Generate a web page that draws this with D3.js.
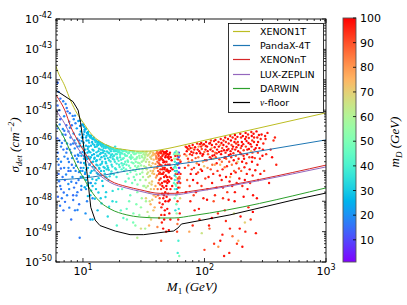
<!DOCTYPE html>
<html><head><meta charset="utf-8">
<script src="https://cdn.jsdelivr.net/npm/d3@7"></script>
<style>body{margin:0;background:#fff}</style>
</head><body>
<svg id="c" width="407" height="305" xmlns="http://www.w3.org/2000/svg"></svg>
<script>
// ---------------- data ----------------
const xTickValues = [10, 100, 1000];
const xTickExps = ["1", "2", "3"];
const yTickExps = [-42, -43, -44, -45, -46, -47, -48, -49, -50];
const cbTicks = [10, 20, 30, 40, 50, 60, 70, 80, 90, 100];
const legendLabels = ["XENON1T", "PandaX-4T", "XENONnT", "LUX-ZEPLIN", "DARWIN", "ν-floor"];
const lineColors = ["#bcbd22", "#1f77b4", "#d62728", "#9467bd", "#2ca02c", "#000000"];

// curves: [M1 (GeV), log10 sigma]
const xenon1T = [[6,-43.55],[6.11,-43.65],[7.08,-44.2],[7.94,-44.7],[8.91,-45.1],[10,-45.4],[12.1,-45.85],[14.1,-46.05],[16.7,-46.2],[23,-46.31],[27.9,-46.35],[35.5,-46.35],[43.1,-46.31],[56.2,-46.22],[80.5,-46.08],[1000,-45.09]];
const pandaX4T = [[6,-47.3],[12,-47.2],[23,-47.0],[43,-46.85],[92,-46.68],[200,-46.45],[1000,-45.98]];
const xenonNT = [[6,-44.5],[6.11,-44.55],[7.08,-45.0],[7.94,-45.55],[8.91,-45.95],[10,-46.3],[12.1,-46.8],[14.1,-47.1],[16.7,-47.32],[23,-47.52],[29.4,-47.62],[43.1,-47.74],[56.2,-47.74],[80.5,-47.66],[1000,-46.81]];
const luxZeplin = [[6,-45.0],[6.11,-45.05],[7.08,-45.45],[7.94,-45.85],[8.91,-46.2],[10,-46.5],[12.1,-46.92],[14.1,-47.18],[16.7,-47.38],[23,-47.57],[29.4,-47.67],[43.1,-47.79],[56.2,-47.79],[80.5,-47.7],[1000,-46.87]];
const darwin = [[6,-45.45],[6.11,-45.5],[7.08,-45.95],[7.94,-46.4],[8.91,-46.85],[10,-47.2],[12.1,-47.75],[14.1,-48.05],[16.7,-48.25],[23,-48.45],[29.4,-48.52],[43.1,-48.55],[56.2,-48.55],[80.5,-48.47],[1000,-47.56]];
const nuFloor = [[6,-44.35],[6.11,-44.37],[8.28,-44.72],[9.12,-45.0],[9.55,-45.4],[10,-46.0],[10.8,-47.07],[11.6,-48.2],[12.6,-48.62],[13.8,-48.8],[18.4,-48.98],[24.4,-49.1],[31.6,-49.1],[45.6,-49.02],[55.6,-48.98],[60.5,-48.88],[64.6,-48.75],[162,-48.45],[536,-47.96],[1000,-47.73]];

// scan points: [M1 (GeV), log10 sigma, mD (GeV)]
const pointsLight = [
[6.2,-44.1,15],[6.3,-44.4,17],[6.5,-45.3,14],[6.4,-46.0,18],[6.2,-46.4,16],[6.6,-46.7,19],[6.3,-47.1,15],[6.5,-47.5,17],[6.8,-45.8,20],[6.9,-46.3,16],[7.0,-46.9,18],[7.1,-47.3,14],[6.7,-47.9,17],[7.2,-44.8,19],[7.3,-45.5,16],[7.4,-46.1,21],[7.5,-46.6,18],[7.6,-47.0,15],[7.7,-47.6,19],[7.8,-45.1,17],[7.9,-45.9,20],[8.0,-46.4,18],[8.1,-46.8,16],[8.2,-47.2,20],[8.3,-47.8,15],[8.4,-45.3,19],[8.5,-46.0,21],[8.6,-46.5,17],[8.7,-47.0,19],[8.8,-47.4,16],[8.9,-45.6,22],[9.0,-46.2,20],[9.1,-46.7,18],[9.2,-47.3,17],[9.3,-48.1,16],[9.4,-45.8,21],[9.5,-46.4,19],[9.6,-46.9,18],[9.7,-47.5,20],[9.4,-49.2,17],
[10.0,-45.9,22],[10.2,-46.5,20],[10.4,-47.1,19],[10.6,-47.6,21],[10.8,-48.0,18],[11.0,-46.2,22],[11.3,-46.8,20],[11.6,-47.4,21],[12.0,-47.9,19],[6.4,-45.0,16],[6.6,-46.2,18],[6.8,-47.2,16],[7.0,-45.2,19],[7.3,-46.4,17],[7.6,-45.7,18],[7.9,-47.0,17],[8.1,-45.5,16],[8.4,-46.9,18],[8.7,-46.1,20],[9.0,-47.7,17],[9.3,-46.0,19],[9.6,-47.2,21],[6.9,-48.3,16],[7.4,-47.8,18],[8.6,-48.3,17],[10.5,-48.4,20],[6.2,-45.6,15],[6.3,-46.8,17],[7.8,-46.3,20],[8.9,-46.6,19],[9.9,-47.0,20],[7.1,-46.0,17],[8.3,-46.1,18],[9.2,-46.5,19],[6.6,-47.6,16],[7.6,-46.9,19],[11.5,-48.6,21],[8.0,-48.6,16],
[6.15,-45.93,14],[6.27,-46.61,18],[6.36,-47.34,16],[6.44,-45.47,19],[6.58,-46.92,15],[6.71,-46.08,17],[6.83,-45.62,20],[6.95,-47.71,16],[7.04,-46.53,18],[7.18,-45.81,15],[7.26,-47.12,19],[7.39,-46.27,17],[7.47,-45.04,16],[7.58,-47.43,20],[7.66,-46.71,18],[7.81,-45.58,19],[7.93,-46.13,16],[8.02,-47.36,18],[8.14,-46.58,20],[8.23,-45.19,17],[8.37,-45.77,21],[8.45,-47.55,16],[8.56,-46.26,19],[8.68,-45.43,18],[8.77,-46.83,20],[8.85,-47.81,17],[8.97,-45.94,21],[9.08,-46.47,19],[9.16,-45.36,22],[9.27,-47.04,18],[9.38,-46.19,20],[9.46,-45.52,21],[9.59,-46.73,19],[9.68,-47.62,17],[9.77,-46.02,22],[9.86,-45.47,23],[9.95,-46.38,21],[6.22,-47.85,15],[6.48,-48.15,17],[7.12,-48.02,16],[7.72,-48.21,18],[8.31,-47.96,17],[9.02,-48.29,19],[6.52,-44.62,16],[6.88,-44.71,18],[7.35,-44.93,17],[6.18,-44.85,15],[7.02,-45.68,17],[7.71,-45.38,19],[8.6,-45.18,20],
[9.5,-45.35,24],[9.6,-45.7,26],[9.4,-46.1,25],[9.7,-46.5,27],[9.5,-47.0,24],[10.0,-45.5,26],[10.1,-45.8,25],[9.9,-46.2,28],[10.2,-46.6,26],[10.0,-47.2,27],[10.3,-45.65,24],[10.5,-45.6,27],[10.6,-45.9,25],[10.4,-46.3,28],[10.7,-46.0,26],[10.5,-46.8,29],[10.6,-47.3,26],[10.8,-45.75,27],[11.0,-45.72,28],[11.1,-46.0,26],[10.9,-46.4,27],[11.2,-46.2,29],[11.0,-46.9,27],[11.3,-45.85,28],[11.1,-47.4,25],[11.4,-46.6,30],
[11.7,-45.85,28],[11.9,-46.05,27],[12.0,-46.3,29],[12.2,-45.95,30],[12.1,-46.7,28],[11.8,-47.0,27],[12.3,-46.45,26],[12.4,-46.15,29],[12.0,-47.5,28],[12.5,-45.98,30],[12.6,-46.9,27],[12.8,-46.0,29],[13.0,-46.2,30],[13.1,-46.5,28],[12.9,-46.8,29],[13.2,-46.1,31],[13.3,-47.1,27],[13.4,-46.35,30],[13.0,-46.65,29],[13.5,-46.05,29],
[13.8,-46.08,30],[14.0,-46.3,31],[14.2,-46.55,29],[13.9,-46.8,30],[14.3,-46.2,32],[14.1,-47.0,28],[14.5,-46.12,31],[14.4,-46.7,30],[14.6,-46.4,29],[14.8,-46.15,31],[15.0,-46.35,32],[15.2,-46.6,30],[15.1,-46.9,31],[15.4,-46.25,33],[15.3,-47.2,29],[15.6,-46.5,32],[15.5,-46.75,31],[15.8,-46.18,33],
[16.0,-46.22,33],[16.2,-46.4,32],[16.4,-46.65,34],[16.1,-46.9,31],[16.6,-46.3,34],[16.8,-46.55,33],[17.0,-46.25,35],[17.2,-46.8,33],[16.9,-47.1,32],[17.4,-46.45,35],[17.8,-46.3,36],[18.0,-46.5,35],[18.3,-46.7,37],[18.5,-46.35,36],[18.7,-46.95,35],[19.0,-46.45,38],[19.2,-46.6,37],[18.9,-47.2,36],[19.4,-46.3,38],
[19.8,-46.35,39],[20.2,-46.55,40],[20.5,-46.4,41],[20.8,-46.75,40],[21.0,-46.33,42],[21.3,-46.6,41],[21.6,-46.9,42],[22.0,-46.45,43],[22.3,-46.7,44],
[11.5,-47.8,27],[12.8,-47.6,29],[14.0,-47.9,30],[13.2,-48.3,28],[15.5,-47.7,31],[17.5,-48.0,34],[16.0,-48.5,33],[19.5,-47.6,37],[12.0,-48.6,28],
[10.2,-45.55,25],[10.9,-45.75,27],[11.5,-45.9,28],[12.0,-45.95,27],[12.7,-46.05,30],[13.3,-46.15,29],[14.0,-46.15,30],[14.8,-46.25,32],[15.5,-46.2,31],[16.3,-46.25,34],[17.0,-46.35,34],[18.0,-46.35,36],[19.0,-46.35,37],[20.0,-46.4,40],[11.2,-46.35,28],[12.4,-46.6,29],[13.6,-46.9,30],[14.9,-47.0,32],[16.2,-47.3,33],[10.6,-46.55,27],[11.6,-46.55,28],[13.8,-46.45,31],[15.7,-46.95,32],[17.6,-46.6,35],[18.4,-46.2,36],[12.9,-47.3,29],[10.1,-46.9,26],[9.8,-45.9,25],[14.6,-47.5,30],[19.8,-46.8,39],
[10.07,-45.48,24],[10.13,-46.07,25],[10.21,-46.74,26],[10.29,-45.71,24],[10.36,-46.42,27],[10.44,-47.05,25],[10.52,-45.63,26],[10.59,-46.17,27],[10.66,-46.96,25],[10.73,-45.84,28],[10.81,-46.61,26],[10.88,-47.48,27],[10.95,-46.28,28],[11.03,-45.79,27],[11.11,-46.53,26],[11.19,-47.17,28],[11.26,-46.07,29],[11.34,-46.79,27],[11.42,-45.83,28],[11.49,-46.39,29],[11.57,-47.06,27],[11.64,-46.17,28],[11.72,-46.72,29],[11.8,-45.92,30],[11.87,-46.48,28],[11.95,-47.27,29],[12.04,-46.11,29],[12.13,-46.86,28],[12.21,-46.33,30],[12.3,-45.91,29],[12.39,-46.98,30],[12.47,-46.57,28],[12.56,-46.21,30],[12.65,-47.41,29],[12.74,-46.03,31],[12.82,-46.68,29],[12.91,-46.39,30],[13.0,-47.07,30],[13.09,-46.14,31],[13.18,-46.82,30],[13.27,-46.04,29],[13.36,-46.51,31],[13.45,-47.24,30],[13.55,-46.27,32],[13.64,-46.93,30],[13.73,-46.11,31],[13.82,-46.62,32],[13.93,-47.12,30],[14.05,-46.41,31],[14.17,-46.09,32],[14.29,-46.76,31],[14.41,-47.33,30],[14.53,-46.32,32],[14.65,-46.18,33],[14.77,-46.87,31],[14.89,-46.52,32],[15.01,-46.2,33],[15.13,-47.09,32],[15.26,-46.44,33],[15.39,-46.71,32],[15.51,-46.16,34],[15.64,-47.22,32],[15.77,-46.36,33],[15.9,-46.84,34],[16.03,-46.58,33],[16.17,-46.19,35],[16.31,-46.97,34],[16.45,-46.42,34],[16.59,-47.18,33],[16.73,-46.23,35],[16.87,-46.69,35],[17.01,-46.48,34],[17.16,-47.02,35],[17.31,-46.28,36],[17.46,-46.86,35],[17.61,-46.53,36],[17.77,-46.26,37],[17.93,-47.11,36],[18.09,-46.63,36],[18.25,-46.32,37],[18.42,-46.91,37],[18.59,-46.45,38],[18.76,-46.29,38],[18.93,-46.76,37],[19.11,-46.56,38],[19.29,-47.05,38],[19.47,-46.38,39],[19.65,-46.67,40],[19.84,-46.31,40],[20.03,-46.87,40],[20.22,-46.47,41],[20.42,-46.3,42],[20.62,-46.63,41],[20.82,-46.95,42],[21.02,-46.43,42],[21.23,-46.82,43],[21.44,-46.35,43],[21.65,-46.58,44],[21.86,-46.77,43],[22.08,-46.33,45],[10.34,-47.54,25],[10.97,-47.83,27],[11.68,-47.65,28],[12.52,-47.92,29],[13.41,-47.71,30],[14.22,-48.07,31],[15.33,-47.86,32],[16.4,-48.18,34],[17.55,-47.66,35],[18.8,-48.02,37]
];
const pointsMid = [
[22.5,-46.35,44],[23.0,-46.5,45],[23.5,-46.7,46],[24.0,-46.4,46],[24.5,-46.9,47],[25.0,-46.55,48],[25.5,-46.36,48],[26.0,-46.75,49],[26.5,-46.45,50],[27.0,-47.0,50],[27.5,-46.6,51],[28.0,-46.38,52],[28.5,-46.85,53],[29.0,-46.5,54],[29.5,-47.1,54],[30.0,-46.4,56],[30.5,-46.7,57],[31.0,-46.95,58],[31.5,-46.45,59],[32.0,-46.6,60],[23.2,-47.1,45],[24.8,-46.6,47],[26.2,-47.2,49],[27.8,-46.9,51],[29.2,-46.75,55],[22.8,-46.8,44],[25.8,-46.4,49],[28.8,-46.4,53],[30.8,-46.55,57],[21.8,-47.0,43],[24.3,-46.55,46],[27.2,-46.7,51],[31.2,-47.2,58],
[21.0,-47.6,45],[24.0,-48.0,48],[26.0,-48.4,50],[28.0,-47.7,52],[30.0,-48.2,55],[23.0,-48.6,47],[33.0,-48.0,58],[27.0,-48.8,53],[20.5,-48.3,44],[35.0,-48.5,60],[19.0,-48.8,42],[32.0,-47.5,57],
[22.3,-46.5,44],[22.6,-46.95,45],[22.9,-46.37,45],[23.3,-46.66,46],[23.6,-46.42,46],[23.9,-46.83,47],[24.2,-46.35,47],[24.6,-47.04,47],[24.9,-46.48,48],[25.2,-46.72,48],[25.6,-46.56,49],[25.9,-46.97,49],[26.3,-46.37,50],[26.6,-46.62,50],[26.9,-46.84,51],[27.3,-46.43,51],[27.6,-47.12,51],[27.9,-46.55,52],[28.3,-46.73,53],[28.6,-46.39,53],[29.0,-46.94,54],[29.3,-46.58,54],[29.7,-46.41,55],[30.1,-46.82,56],[30.4,-46.51,56],[30.8,-47.05,57],[31.1,-46.38,58],[31.5,-46.66,59],[31.9,-46.85,59],[32.3,-46.48,60],[22.4,-47.35,44],[23.8,-47.25,46],[25.4,-47.4,48],[26.8,-47.3,50],[28.1,-47.45,52],[29.6,-47.3,55],[31.4,-47.5,58],[24.5,-47.8,47],[27.5,-48.1,51],[30.5,-47.9,56],[22.9,-48.25,45],[25.9,-48.7,49],[29.1,-48.45,54],[21.5,-48.55,43],[32.5,-48.9,59],
[32.5,-46.4,62],[33.0,-46.7,63],[33.5,-46.95,64],[34.0,-46.5,66],[34.5,-47.2,65],[35.0,-46.8,68],[35.5,-46.42,69],[36.0,-47.0,70],[36.5,-46.6,71],[37.0,-47.35,72],[37.5,-46.75,74],[38.0,-46.45,75],[38.5,-47.1,76],[39.0,-46.9,78],[39.5,-47.5,77],[40.0,-46.6,80],[34.2,-47.5,64],[36.2,-47.6,70],[38.2,-47.8,75],[33.2,-46.45,63],[35.8,-46.55,69],[37.8,-47.0,74],[39.8,-46.5,79],[32.8,-47.3,61],[35.2,-47.4,67],
[32.4,-46.55,61],[32.9,-46.88,62],[33.4,-46.38,63],[33.8,-46.62,64],[34.3,-47.05,65],[34.7,-46.47,66],[35.1,-46.71,67],[35.6,-47.17,68],[36.0,-46.38,69],[36.4,-46.85,70],[36.9,-46.5,71],[37.3,-47.08,72],[37.7,-46.4,73],[38.2,-46.63,74],[38.6,-46.92,75],[39.1,-46.44,77],[39.5,-46.77,78],[39.9,-47.22,79],[33.1,-47.55,62],[34.9,-47.7,66],[36.7,-47.45,70],[38.4,-47.6,75],[39.7,-47.85,79],[35.4,-48.0,67],[37.2,-47.95,72],[34.0,-48.35,64],[38.9,-48.2,76],[36.3,-48.6,70],[33.7,-47.1,64],[37.9,-46.48,74],
[40.5,-46.4,86],[41.0,-46.7,88],[41.5,-47.0,90],[42.0,-46.5,92],[42.5,-47.3,94],[43.0,-46.8,96],[43.5,-46.4,98],[44.0,-47.1,95],[44.5,-46.6,97],[45.0,-47.5,99],[45.5,-46.9,93],[46.0,-46.45,96],[46.5,-47.2,98],[47.0,-46.7,100],[47.5,-47.7,97],[48.0,-46.5,99],[48.5,-47.0,95],[49.0,-46.35,98],[49.5,-47.4,100],[50.0,-46.8,96],[50.5,-48.0,99],[51.0,-46.6,97],[51.5,-47.2,95],[52.0,-46.4,99],[52.5,-47.6,98],[53.0,-46.9,100],[41.2,-47.6,87],[42.8,-47.9,91],[44.2,-48.2,95],[45.8,-47.9,97],[47.2,-48.3,99],[48.8,-47.85,98],[43.8,-46.55,94],[45.2,-46.35,97],[46.8,-46.95,99],[48.2,-47.35,96],[49.8,-46.55,100],[44.8,-47.75,96],[46.2,-47.55,97],[42.2,-47.1,92],[40.8,-46.9,87],[43.2,-47.45,93],[47.8,-46.8,98],[50.8,-47.05,99],[45.6,-46.65,98],[49.2,-46.95,97],[46.6,-48.6,99],[48.4,-49.0,98],[44.6,-48.7,96],[51.4,-48.4,100],[47.4,-46.4,99],[43.4,-46.95,95],[41.6,-46.45,90],[42.6,-46.65,93],
[40.3,-46.55,84],[40.7,-47.15,86],[41.1,-46.42,87],[41.4,-46.85,89],[41.8,-47.4,90],[42.1,-46.75,91],[42.4,-46.4,93],[42.9,-47.05,94],[43.3,-46.6,95],[43.6,-47.25,96],[44.0,-46.42,96],[44.3,-46.82,97],[44.7,-47.4,97],[45.1,-46.5,98],[45.4,-47.1,98],[45.9,-46.72,99],[46.3,-46.38,99],[46.7,-47.35,100],[47.1,-46.9,99],[47.6,-46.55,100],[48.0,-47.15,99],[48.3,-46.38,100],[48.7,-46.7,98],[49.1,-47.2,99],[49.6,-46.45,100],[50.1,-47.0,99],[50.6,-46.52,98],[51.1,-47.35,100],[51.7,-46.8,99],[52.2,-47.0,97],[52.8,-46.55,100],[53.4,-47.25,98],[41.5,-47.8,88],[42.7,-48.05,92],[43.9,-47.6,95],[45.3,-48.1,97],[46.4,-47.8,99],[47.7,-48.0,100],[48.9,-47.6,99],[50.3,-47.75,98],[51.8,-47.95,100],[44.1,-48.45,96],[46.9,-48.45,99],[49.4,-48.25,98],[42.3,-48.55,91],[52.4,-48.6,97],[45.7,-48.9,98],[50.9,-48.95,99],[43.7,-46.35,95],[47.9,-46.42,99],[40.9,-46.38,85],[44.9,-46.95,97],[46.1,-47.05,98],[49.9,-47.3,99],[51.3,-46.45,100],[53.7,-46.65,99],[54.2,-47.5,98],[54.6,-46.95,100],[41.9,-46.6,90],[48.5,-47.5,100],
[57.0,-46.4,35],[57.0,-46.7,38],[57.0,-47.0,33],[57.0,-47.3,36],[57.0,-47.6,40],[58.5,-46.35,50],[58.5,-46.6,52],[58.5,-46.9,48],[58.5,-47.2,55],[58.5,-47.5,50],[58.5,-47.8,53],[60.0,-46.5,95],[60.0,-46.8,90],[60.0,-47.1,97],[60.0,-47.4,92],[60.0,-47.7,98],[60.0,-48.0,94],[61.5,-46.4,8],[61.5,-46.75,12],[61.5,-47.05,6],[61.5,-47.35,10],[62.5,-46.5,85],[62.5,-46.9,80],[62.5,-47.25,88],[62.5,-47.55,82],[56.0,-46.9,42],[56.0,-47.4,45],[59.2,-47.0,30],[59.2,-47.6,28],[63.5,-46.7,99],[63.5,-47.1,96],[57.6,-48.3,34],[60.8,-48.6,95],[59.5,-49.0,92],[61.0,-49.3,40],[60.2,-49.7,38],[62.0,-49.8,50],[59.0,-48.4,55],[57.5,-46.5,100],[58.0,-47.1,97],[56.5,-46.6,62],[63.0,-47.9,70],[61.2,-46.45,45],[59.8,-46.4,60],[56.8,-47.9,50],
[56.3,-46.45,48],[56.9,-47.15,32],[57.3,-46.85,37],[57.8,-47.45,44],[58.2,-46.45,58],[58.8,-47.05,51],[59.3,-46.75,29],[59.6,-47.3,62],[60.3,-46.62,96],[60.5,-47.25,91],[60.9,-47.55,99],[61.3,-46.55,14],[61.7,-46.9,5],[62.1,-47.2,88],[62.8,-46.65,83],[63.2,-47.4,94],[58.7,-48.1,47],[61.4,-48.25,36],[59.9,-48.75,85],[62.6,-48.4,97],
[35,-48.8,75],[41,-48.85,82],[38,-48.3,72],[30,-48.9,68],[44,-49.3,90],[33,-47.9,70],[36,-48.1,76],[28,-49.2,62]
];
const pointsHeavy = [
[70,-46.2,92],[71,-46.5,78],[69,-46.9,95],[72,-47.3,88],[70.5,-47.7,98],[71.5,-46.35,100],
[75,-46.18,97],[76,-46.45,94],[74,-46.7,82],[77,-47.1,99],[75.5,-47.5,90],[76.5,-48.0,96],[74.5,-46.3,86],
[80,-46.15,99],[81,-46.4,96],[79,-46.65,88],[82,-46.9,93],[80.5,-47.3,100],[81.5,-47.8,92],[79.5,-46.25,78],[83,-48.3,97],
[87,-46.1,95],[88,-46.3,98],[89,-46.55,85],[90,-46.8,100],[88.5,-47.05,92],[87.5,-47.4,97],[89.5,-46.2,80],[91,-48.6,94],
[94,-46.08,100],[95,-46.28,91],[96,-46.5,97],[97,-46.7,76],[95.5,-47.0,99],[94.5,-47.5,93],[96.5,-46.15,88],[98,-47.9,96],
[103,-46.05,97],[105,-46.2,100],[107,-46.45,90],[104,-46.65,95],[106,-46.9,82],[108,-47.2,98],[105.5,-47.6,94],[102,-46.3,99],[109,-48.8,97],
[113,-46.0,92],[115,-46.15,99],[117,-46.35,96],[114,-46.6,100],[116,-46.8,87],[118,-47.1,95],[115.5,-47.4,98],[119,-48.0,90],[114.5,-46.25,75],
[123,-45.98,100],[125,-46.12,95],[127,-46.3,98],[124,-46.55,90],[126,-46.75,97],[128,-47.0,93],[125.5,-47.55,99],[129,-48.4,96],[122,-46.4,84],
[136,-45.95,97],[138,-46.08,100],[140,-46.25,93],[137,-46.45,99],[139,-46.7,86],[141,-46.95,96],[138.5,-47.3,98],[142,-47.9,94],[135,-46.15,80],[140.5,-49.1,97],
[148,-45.9,99],[150,-46.05,94],[152,-46.2,100],[149,-46.4,97],[151,-46.6,88],[153,-46.85,96],[150.5,-47.2,99],[154,-47.7,92],[147,-48.3,98],
[163,-45.85,96],[165,-46.0,100],[167,-46.15,92],[164,-46.35,98],[166,-46.55,95],[168,-46.8,85],[165.5,-47.1,99],[169,-47.5,97],[162,-48.9,96],
[178,-45.82,100],[180,-45.95,97],[182,-46.1,93],[179,-46.3,99],[181,-46.5,90],[183,-46.75,96],[180.5,-47.05,98],[184,-47.4,95],[177,-48.0,99],[185,-49.4,93],
[197,-45.78,98],[200,-45.9,95],[203,-46.05,100],[199,-46.25,92],[201,-46.45,97],[204,-46.7,99],[200.5,-47.0,89],[205,-47.5,96],[198,-48.5,98],
[218,-45.75,99],[220,-45.88,96],[222,-46.02,100],[219,-46.2,93],[224,-46.45,98],[221,-46.75,95],[223,-47.1,97],[226,-47.6,99],[217,-49.0,96],
[243,-45.72,97],[245,-45.85,100],[247,-46.0,94],[244,-46.2,98],[248,-46.4,92],[246,-46.7,99],[249,-47.15,96],[251,-47.8,98],
[268,-45.7,100],[272,-45.9,96],[270,-46.15,99],[275,-46.4,93],[273,-46.8,98],[277,-47.3,95],
[295,-45.8,98],[305,-46.1,96],[300,-46.5,100],[310,-47.0,92],
[330,-45.75,97],[350,-46.3,99],[370,-46.0,94],[390,-46.8,96],[340,-47.4,98],
[75,-49.0,78],[95,-49.05,65],[100,-49.6,92],[130,-49.5,80],[160,-49.7,96],[190,-49.3,75],[215,-48.7,70],[110,-48.9,88],[240,-48.6,93],[145,-49.8,97],[175,-48.4,66],
[68.5,-46.45,93],[72.8,-46.27,96],[73.6,-46.82,89],[77.9,-46.37,98],[78.6,-46.95,95],[83.7,-46.22,99],[84.5,-46.58,90],[85.6,-47.1,97],[86.4,-46.75,82],[91.7,-46.12,97],[92.5,-46.42,100],[93.3,-46.95,94],[98.9,-46.12,99],[99.7,-46.38,86],[100.8,-46.65,97],[101.6,-47.25,92],[109.5,-46.1,98],[110.7,-46.55,95],[111.9,-46.3,100],[112.6,-46.95,91],[119.8,-46.02,96],[120.7,-46.48,99],[121.5,-46.8,78],[130.5,-46.05,97],[131.7,-46.38,100],[132.8,-46.62,93],[133.9,-47.15,98],[143.5,-46.0,95],[144.7,-46.32,99],[145.8,-46.57,100],[146.6,-46.88,84],[156.2,-45.95,98],[157.5,-46.28,96],[158.7,-46.48,100],[159.8,-46.7,92],[160.9,-47.35,99],[170.5,-45.9,97],[171.8,-46.2,100],[172.9,-46.42,95],[174.1,-46.65,99],[175.3,-47.0,88],[186.7,-45.88,99],[188.1,-46.05,94],[189.5,-46.35,100],[190.9,-46.6,97],[192.3,-46.92,92],[193.6,-47.25,98],[206.9,-45.85,100],[208.5,-46.12,97],[210.1,-46.32,93],[211.7,-46.6,99],[213.2,-46.88,96],[214.8,-47.3,100],[228.4,-45.8,96],[230.2,-46.08,100],[232.1,-46.28,98],[233.9,-46.55,92],[235.7,-46.95,99],[237.5,-47.4,95],[253.5,-45.78,99],[255.6,-46.05,96],[257.7,-46.3,100],[259.8,-46.58,93],[261.9,-46.98,97],[280.5,-45.82,98],[283.2,-46.25,100],[285.9,-46.6,95],[288.5,-47.1,99],[318,-45.95,97],[322,-46.45,94],[360,-46.55,99],[380,-45.9,96],[85,-47.7,96],[105,-47.95,99],[122,-47.8,95],[142,-47.55,100],[158,-47.95,98],[178,-47.7,97],[210,-47.85,99],[230,-48.2,96],[250,-48.35,100],[270,-47.9,98],[90,-48.25,97],[115,-48.55,99],[150,-48.65,95],[195,-48.9,98],[265,-49.05,97],[80,-48.8,95],[135,-49.3,99],[170,-49.15,86],[205,-49.5,98],[120,-49.4,93],
[71.3,-46.22,99],[73.1,-46.6,94],[76.8,-46.25,100],[79.2,-46.48,97],[82.4,-46.3,96],[86.1,-46.42,99],[90.6,-46.35,98],[93.8,-46.2,95],[97.4,-46.45,100],[102.5,-46.18,96],[106.3,-46.35,99],[111.2,-46.08,97],[116.4,-46.5,100],[121.3,-46.22,98],[126.2,-46.42,94],[131.2,-46.2,99],[137.8,-46.35,97],[143.1,-46.15,100],[148.7,-46.55,96],[153.2,-46.32,99],[158.1,-46.1,97],[163.7,-46.45,100],[169.6,-46.28,95],[176.4,-46.05,99],[183.4,-46.22,98],[190.2,-46.15,100],[196.6,-46.4,96],[202.3,-46.18,99],[209.7,-46.5,97],[216.4,-45.95,100],[225.1,-46.3,98],[231.5,-45.92,95],[239.2,-46.12,99],[247.5,-46.55,100],[256.1,-45.9,97],[264.2,-46.25,99],[276.3,-46.05,98],[290.1,-45.95,96],[302.5,-46.3,99],[315.4,-45.85,97],
[99.3,-46.85,72],[134.6,-46.8,75],[187.2,-46.7,70],[241.8,-46.35,74],[118.6,-46.6,68],[162.8,-47.2,79]
];

// ---------------- layout ----------------
const L = 56, R = 326, T = 19, B = 262;
const svg = d3.select("#c");
const x = d3.scaleLog().domain([6, 1000]).range([L, R]);
const y = d3.scaleLog().domain([1e-50, 1e-42]).range([B, T]);
const cScale = d3.scaleLinear().domain([1, 100]).range([0, 1]).clamp(true);
function rainbow(t) {
  const r = Math.min(1, Math.abs(2 * t - 0.5));
  const g = Math.max(0, Math.sin(Math.PI * t));
  const b = Math.max(0, Math.cos(Math.PI * t / 2));
  return d3.rgb(r * 255, g * 255, b * 255).toString();
}
const col = v => rainbow(cScale(v));

svg.append("rect").attr("width", 407).attr("height", 305).attr("fill", "#fff");
svg.append("defs").append("clipPath").attr("id", "clip")
  .append("rect").attr("x", L).attr("y", T).attr("width", R - L).attr("height", B - T);

// scatter
const allPts = pointsLight.concat(pointsMid, pointsHeavy);
svg.append("g").attr("clip-path", "url(#clip)").selectAll("circle").data(allPts).join("circle")
  .attr("cx", d => x(d[0])).attr("cy", d => y(Math.pow(10, d[1])))
  .attr("r", 1.2).attr("fill", d => col(d[2]));

// curves
const curves = [xenon1T, pandaX4T, xenonNT, luxZeplin, darwin, nuFloor];
const lineGen = d3.line().x(d => x(d[0])).y(d => y(Math.pow(10, d[1])));
const lg = svg.append("g").attr("clip-path", "url(#clip)");
curves.forEach((c, i) => {
  lg.append("path").attr("d", lineGen.curve(i === 5 ? d3.curveLinear : d3.curveMonotoneX)(c))
    .attr("fill", "none").attr("stroke", lineColors[i]).attr("stroke-width", 1);
});

// axes frame & ticks (inside, all four sides)
const ax = svg.append("g").attr("stroke", "#000").attr("stroke-width", 0.8);
const xMinor = [];
[1, 10, 100].forEach(dec => { for (let k = 2; k <= 9; k++) { const v = k * dec; if (v >= 6 && v < 1000 && v !== 10 && v !== 100) xMinor.push(v); } });
xMinor.forEach(v => {
  ax.append("line").attr("x1", x(v)).attr("x2", x(v)).attr("y1", B).attr("y2", B - 2);
  ax.append("line").attr("x1", x(v)).attr("x2", x(v)).attr("y1", T).attr("y2", T + 2);
});
xTickValues.forEach(v => {
  ax.append("line").attr("x1", x(v)).attr("x2", x(v)).attr("y1", B).attr("y2", B - 4);
  ax.append("line").attr("x1", x(v)).attr("x2", x(v)).attr("y1", T).attr("y2", T + 4);
});
yTickExps.forEach(e => {
  const yy = y(Math.pow(10, e));
  ax.append("line").attr("x1", L).attr("x2", L + 4).attr("y1", yy).attr("y2", yy);
  ax.append("line").attr("x1", R).attr("x2", R - 4).attr("y1", yy).attr("y2", yy);
  if (e > -50) for (let k = 2; k <= 9; k++) {
    const ym = y(k * Math.pow(10, e - 1));
    ax.append("line").attr("x1", L).attr("x2", L + 2).attr("y1", ym).attr("y2", ym);
    ax.append("line").attr("x1", R).attr("x2", R - 2).attr("y1", ym).attr("y2", ym);
  }
});
svg.append("rect").attr("x", L).attr("y", T).attr("width", R - L).attr("height", B - T)
  .attr("fill", "none").attr("stroke", "#000").attr("stroke-width", 0.9);

// tick labels
const tf = "DejaVu Sans, sans-serif";
yTickExps.forEach(e => {
  const t = svg.append("text").attr("x", 52).attr("y", y(Math.pow(10, e)) + 4)
    .attr("text-anchor", "end").attr("font-family", tf).attr("font-size", 11).attr("fill", "#000");
  t.append("tspan").text("10");
  t.append("tspan").attr("dy", -5).attr("font-size", 8).text(String(e));
});
xTickValues.forEach((v, i) => {
  const t = svg.append("text").attr("x", x(v)).attr("y", 275)
    .attr("text-anchor", "middle").attr("font-family", tf).attr("font-size", 11).attr("fill", "#000");
  t.append("tspan").text("10");
  t.append("tspan").attr("dy", -5).attr("font-size", 8).text(xTickExps[i]);
});

// axis labels
const mf = "Liberation Serif, DejaVu Serif, serif";
const xl = svg.append("text").attr("x", 192).attr("y", 291).attr("text-anchor", "middle")
  .attr("font-family", mf).attr("font-size", 13).attr("font-style", "italic");
xl.append("tspan").text("M");
xl.append("tspan").attr("dy", 3).attr("font-size", 9).attr("font-style", "normal").text("1");
xl.append("tspan").attr("dy", -3).text(" (GeV)");

const yl = svg.append("text").attr("transform", "translate(19,145) rotate(-90)").attr("text-anchor", "middle")
  .attr("font-family", mf).attr("font-size", 13).attr("font-style", "italic");
yl.append("tspan").text("σ");
yl.append("tspan").attr("dy", 3).attr("font-size", 9).text("det");
yl.append("tspan").attr("dy", -3).text(" (cm");
yl.append("tspan").attr("dy", -5).attr("font-size", 9).text("−2");
yl.append("tspan").attr("dy", 5).text(")");

// legend
const lgX = 228, lgY = 23, lgW = 95, lgH = 89;
svg.append("rect").attr("x", lgX + 0.5).attr("y", lgY + 0.5).attr("width", lgW).attr("height", lgH)
  .attr("fill", "#fff").attr("stroke", "#000").attr("stroke-width", 0.8);
const rowY = [31.5, 45.5, 59.5, 74.5, 88.5, 102.5];
legendLabels.forEach((lab, i) => {
  svg.append("line").attr("x1", 233).attr("x2", 250).attr("y1", rowY[i]).attr("y2", rowY[i])
    .attr("stroke", lineColors[i]).attr("stroke-width", 1.2);
  const t = svg.append("text").attr("x", 260).attr("y", rowY[i] + 3.5)
    .attr("font-family", tf).attr("font-size", 9.5).attr("fill", "#000");
  if (lab.startsWith("ν")) {
    t.append("tspan").attr("font-family", mf).attr("font-style", "italic").text("ν");
    t.append("tspan").text(lab.slice(1));
  } else t.text(lab);
});

// colorbar
const cbX = 343, cbW = 13, cbT = 18, cbB = 262;
const cbY = d3.scaleLinear().domain([1, 100]).range([cbB, cbT]);
const grad = svg.select("defs").append("linearGradient").attr("id", "cbg")
  .attr("x1", 0).attr("y1", 1).attr("x2", 0).attr("y2", 0);
d3.range(0, 1.0001, 0.05).forEach(t => grad.append("stop").attr("offset", t).attr("stop-color", rainbow(t)));
svg.append("rect").attr("x", cbX).attr("y", cbT).attr("width", cbW).attr("height", cbB - cbT)
  .attr("fill", "url(#cbg)").attr("stroke", "#555").attr("stroke-width", 0.9);
cbTicks.forEach(v => {
  svg.append("line").attr("x1", cbX + cbW).attr("x2", cbX + cbW - 3).attr("y1", cbY(v)).attr("y2", cbY(v))
    .attr("stroke", "#000").attr("stroke-width", 0.8);
  svg.append("text").attr("x", 360).attr("y", cbY(v) + 4).attr("font-family", tf).attr("font-size", 11)
    .attr("fill", "#000").text(v);
});
const cl = svg.append("text").attr("transform", "translate(399,142) rotate(-90)").attr("text-anchor", "middle")
  .attr("font-family", mf).attr("font-size", 13).attr("font-style", "italic");
cl.append("tspan").text("m");
cl.append("tspan").attr("dy", 3).attr("font-size", 9).text("D");
cl.append("tspan").attr("dy", -3).text(" (GeV)");
</script>
</body></html>
